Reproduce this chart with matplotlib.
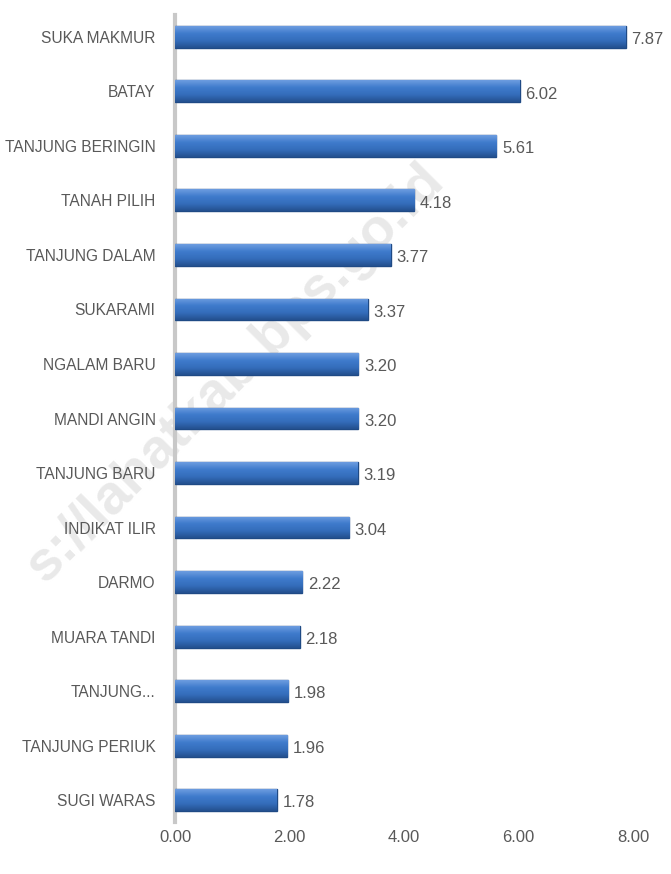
import numpy as np
import matplotlib.pyplot as plt

# ============================================================
# DATA
# ============================================================

villages = [
    "SUKA MAKMUR", "BATAY", "TANJUNG BERINGIN", "TANAH PILIH",
    "TANJUNG DALAM", "SUKARAMI", "NGALAM BARU", "MANDI ANGIN",
    "TANJUNG BARU", "INDIKAT ILIR", "DARMO", "MUARA TANDI",
    "TANJUNG...", "TANJUNG PERIUK", "SUGI WARAS",
]
values = [7.87, 6.02, 5.61, 4.18, 3.77, 3.37, 3.20, 3.20,
          3.19, 3.04, 2.22, 2.18, 1.98, 1.96, 1.78]
xticks = [0, 2, 4, 6, 8]

# ============================================================
# STYLE
# ============================================================

plt.rcParams["font.family"] = ["Liberation Sans", "DejaVu Sans"]
text_color = "#595959"

fig = plt.figure(figsize=(6.71, 8.74), dpi=100)

# faint watermark behind everything
fig.text(0.35, 0.572, "s://lahatkab.bps.go.id", rotation=45,
         fontsize=40, color="#e9e9e9", ha="center", va="center",
         fontweight="bold", zorder=0)

ax = fig.add_axes([175 / 671, 1 - 822 / 874, 458 / 671, 807 / 874])
ax.set_zorder(1)
ax.patch.set_alpha(0)

y = np.arange(len(villages))
bar_h = 0.40

# vertical gradient (light top -> dark bottom) for glossy bars
grad = np.linspace(0, 1, 64).reshape(-1, 1)
cmap = plt.matplotlib.colors.LinearSegmentedColormap.from_list(
    "bar", ["#6d9de0", "#3f7bcc", "#346dbb", "#24508f"])

bars = ax.barh(y, values, height=bar_h, color="#3a74c2", edgecolor="#1f4a85",
               linewidth=1.0, zorder=3)
for b in bars:
    x0, y0, w, h = b.get_x(), b.get_y(), b.get_width(), b.get_height()
    im = ax.imshow(grad, cmap=cmap, aspect="auto", zorder=3.5,
                   extent=(x0, x0 + w, y0 + h, y0), interpolation="bicubic")
    im.set_clip_path(b)

for yi, v in zip(y, values):
    ax.text(v + 0.1, yi + 0.05, f"{v:.2f}", va="center", ha="left",
            fontsize=12, color=text_color)

ax.set_xlim(0, 8)
ax.set_ylim(len(villages) - 0.6, -0.4)
ax.set_yticks(y)
ax.set_yticklabels(villages, fontsize=11.2, color=text_color)
ax.set_xticks(xticks)
ax.set_xticklabels([f"{t:.2f}" for t in xticks], fontsize=12, color=text_color)
ax.tick_params(axis="both", length=0)
ax.tick_params(axis="y", pad=14)
ax.tick_params(axis="x", pad=6)

for side in ["top", "right", "bottom"]:
    ax.spines[side].set_visible(False)
ax.spines["left"].set_color("#c8c8c8")
ax.spines["left"].set_linewidth(3)

fig.savefig("out.png", dpi=100)
